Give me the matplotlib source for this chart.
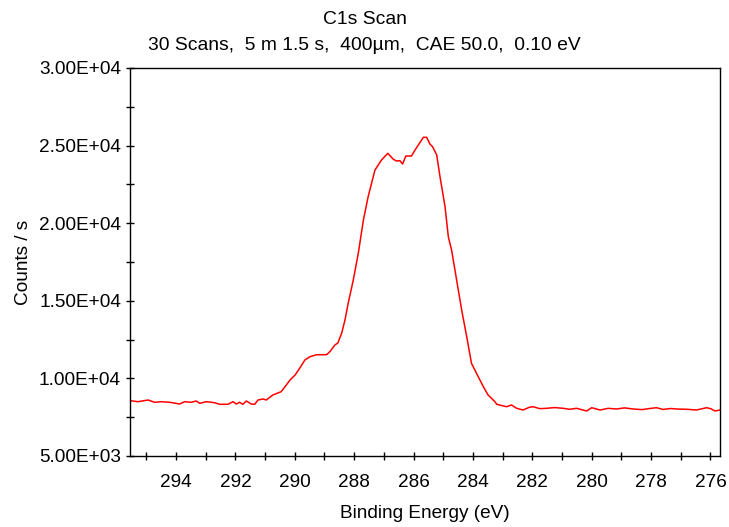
import matplotlib
matplotlib.use("Agg")
import matplotlib.pyplot as plt
from matplotlib.ticker import MultipleLocator, FuncFormatter

plt.rcParams['font.family'] = ['Liberation Sans', 'DejaVu Sans']

title = "C1s Scan"
subtitle = "30 Scans,  5 m 1.5 s,  400µm,  CAE 50.0,  0.10 eV"
xlabel = "Binding Energy (eV)"
ylabel = "Counts / s"

energy = [295.53, 295.28, 294.94, 294.72, 294.50, 294.21, 293.88, 293.71, 293.49, 293.32,
          293.20, 292.98, 292.70, 292.53, 292.25, 292.08, 291.97, 291.86, 291.75, 291.63,
          291.47, 291.35, 291.24, 291.07, 290.96, 290.74, 290.46, 290.33, 290.16, 289.99,
          289.83, 289.66, 289.49, 289.26, 288.93, 288.82, 288.65, 288.55, 288.42, 288.31,
          288.20, 288.03, 287.86, 287.69, 287.53, 287.30, 287.08, 286.87, 286.68, 286.57,
          286.46, 286.37, 286.26, 286.07, 285.95, 285.75, 285.67, 285.56, 285.45, 285.36,
          285.22, 285.11, 284.94, 284.83, 284.72, 284.55, 284.38, 284.21, 284.05, 283.88,
          283.65, 283.49, 283.26, 283.20, 282.87, 282.70, 282.53, 282.31, 282.10, 281.97,
          281.75, 281.52, 281.25, 280.96, 280.75, 280.51, 280.17, 280.00, 279.72, 279.45,
          279.16, 278.90, 278.60, 278.30, 278.05, 277.82, 277.60, 277.35, 277.14, 276.80,
          276.47, 276.13, 275.98, 275.85, 275.68]
counts = [8563, 8499, 8608, 8460, 8499, 8460, 8350, 8499, 8460, 8544,
          8395, 8499, 8434, 8331, 8331, 8499, 8350, 8460, 8331, 8544,
          8350, 8331, 8608, 8673, 8608, 8930, 9143, 9465, 9897, 10219,
          10670, 11185, 11398, 11527, 11527, 11720, 12152, 12281, 12925, 13762,
          14858, 16340, 18079, 20205, 21707, 23427, 24071, 24503, 24116, 24007,
          24026, 23814, 24329, 24329, 24716, 25300, 25534, 25534, 25103, 24929,
          24394, 22996, 21062, 19130, 18273, 16340, 14407, 12687, 10973, 10328,
          9465, 8930, 8499, 8331, 8176, 8286, 8073, 7964, 8140, 8176,
          8050, 8073, 8120, 8073, 8010, 8073, 7899, 8112, 7964, 8070,
          8028, 8100, 8028, 7990, 8060, 8112, 8000, 8060, 8028, 8010,
          7964, 8112, 8040, 7899, 7964]

fig = plt.figure(figsize=(7.29, 5.27), dpi=100)
ax = fig.add_axes([130/729, 1-456/527, 590/729, 388/527])
ax.plot(energy, counts, color='#ff0000', lw=1.1)

ax.set_xlim(295.55, 275.68)
ax.set_ylim(5000, 30000)
ax.xaxis.set_major_locator(MultipleLocator(2))
ax.xaxis.set_minor_locator(MultipleLocator(1))
ax.yaxis.set_major_locator(MultipleLocator(5000))
ax.yaxis.set_minor_locator(MultipleLocator(2500))
ax.yaxis.set_major_formatter(FuncFormatter(lambda v, p: "{:.2E}".format(v)))
ax.xaxis.set_major_formatter(FuncFormatter(lambda v, p: "{:d}".format(int(round(v)))))
ax.tick_params(which='both', direction='inout', length=6, width=1, labelsize=13.7,
               top=False, right=False)
ax.tick_params(axis='x', pad=10)
for s in ax.spines.values():
    s.set_linewidth(1)

ax.set_xlabel(xlabel, fontsize=13.7, labelpad=10)
ax.set_ylabel(ylabel, fontsize=13.7, labelpad=5)
fig.text(0.5, 1-20/527, title, ha='center', va='center', fontsize=13.9)
fig.text(0.5, 1-45/527, subtitle, ha='center', va='center', fontsize=13.9)

fig.savefig("out.png", dpi=100)
